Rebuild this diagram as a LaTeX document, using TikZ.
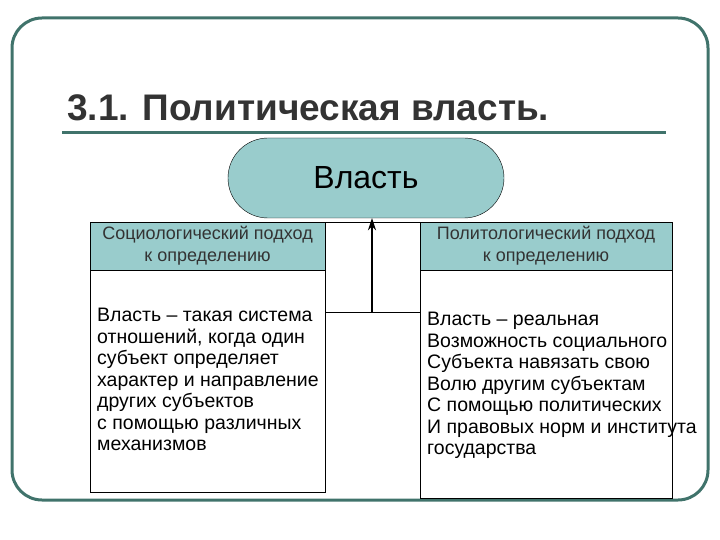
\documentclass[tikz,border=0pt]{standalone}
\usepackage{fontspec}
\setmainfont{Liberation Sans}
\usetikzlibrary{positioning,arrows.meta}
\definecolor{dteal}{rgb}{0.25,0.45,0.42}
\definecolor{lteal}{rgb}{0.6,0.8,0.8}
\tikzset{
  head/.style={draw,fill=lteal,minimum width=235pt,minimum height=48pt,align=center,font=\fontsize{18}{22}\selectfont,inner sep=0pt,text=black!80},
  body/.style={draw,fill=white,minimum width=235pt,anchor=north west,inner sep=0pt},
  txt/.style={anchor=north west,align=left,font=\fontsize{19.5}{21.5}\selectfont,inner sep=0pt}
}
\begin{document}
\begin{tikzpicture}[x=1pt,y=-1pt]
\useasboundingbox (0,0) rectangle (720,540);
\draw[dteal,line width=3pt,rounded corners=30pt] (12,18) rectangle (708,500);
\node[anchor=west,font=\fontsize{37}{40}\selectfont\bfseries,text=black!80,inner sep=0pt] (title) at (67,108) {3.1. Политическая власть.};
\draw[dteal,line width=3pt] (62,133) -- (666,133);
\node[draw,fill=lteal,rounded corners=40pt,minimum width=276pt,minimum height=80pt,font=\fontsize{32}{36}\selectfont] (power) at (366,178) {Власть};
\draw[fill=white] (325,222) rectangle (420,312);
\draw (325,312) -- (420,312);
\node[head] (lhead) at (207.5,246) {Социологический подход\\к определению};
\node[head,minimum width=252pt] (rhead) at (546,246) {Политологический подход\\к определению};
\node[body,minimum height=222pt] (lbody) at (lhead.south west) {};
\node[txt] (ltext) at (97,308) {Власть – такая система\\отношений, когда один\\субъект определяет\\характер и направление\\других субъектов\\с помощью различных\\механизмов};
\node[body,minimum height=228pt,minimum width=252pt] (rbody) at (rhead.south west) {};
\node[txt] (rtext) at (427,312) {Власть – реальная\\Возможность социального\\Субъекта навязать свою\\Волю другим субъектам\\С помощью политических\\И правовых норм и института\\государства};
\coordinate (base) at (372,312);
\draw[-{Stealth[length=12pt,width=8pt]},line width=1.6pt] (base) -- (power.south -| base);
\end{tikzpicture}
\end{document}
